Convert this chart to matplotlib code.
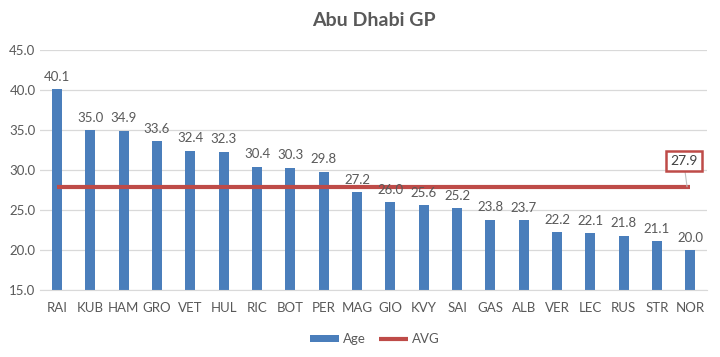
import matplotlib
matplotlib.use("Agg")
import matplotlib.pyplot as plt
import numpy as np

drivers = ["RAI", "KUB", "HAM", "GRO", "VET", "HUL", "RIC", "BOT", "PER", "MAG",
           "GIO", "KVY", "SAI", "GAS", "ALB", "VER", "LEC", "RUS", "STR", "NOR"]
ages = [40.1, 35.0, 34.9, 33.6, 32.4, 32.3, 30.4, 30.3, 29.8, 27.2,
        26.0, 25.6, 25.2, 23.8, 23.7, 22.2, 22.1, 21.8, 21.1, 20.0]
avg_value = 27.9
title = "Abu Dhabi GP"

plt.rcParams['font.family'] = ['Lato', 'DejaVu Sans']
grey = "#595959"

fig = plt.figure(figsize=(7.2, 3.57), dpi=100)
ax = fig.add_axes([0.056, 0.188, 0.926, 0.672])

x = np.arange(len(drivers))
bars = ax.bar(x, ages, width=0.3, color="#4A7EBB", label="Age", zorder=2)
avg = [avg_value] * len(drivers)
line, = ax.plot(x, avg, color="#BE4B48", lw=3, label="AVG", zorder=3, solid_capstyle="butt")

for xi, v in zip(x, ages):
    ax.text(xi, v + 0.8, f"{v:.1f}", ha="center", va="bottom", fontsize=9.5, color=grey)

# AVG label box
ax.annotate(f"{avg_value:.1f}", xy=(x[-1] - 0.1, avg_value), xytext=(x[-1] - 0.2, avg_value + 3.2),
            ha="center", va="center", fontsize=10, color="#404040",
            bbox=dict(boxstyle="square,pad=0.3", fc="white", ec="#BE4B48", lw=1.8),
            arrowprops=dict(arrowstyle="-", color="#BFBFBF", lw=0.8, shrinkA=0, shrinkB=0),
            zorder=5)

ax.set_ylim(15, 45)
ax.set_xlim(-0.5, len(drivers) - 0.5)
ax.set_yticks(np.arange(15, 45.1, 5))
ax.set_yticklabels([f"{t:.1f}" for t in np.arange(15, 45.1, 5)])
ax.set_xticks(x)
ax.set_xticklabels(drivers)
ax.tick_params(axis="both", length=0, labelsize=9.5, colors=grey)
ax.tick_params(axis="x", pad=9)
ax.yaxis.grid(True, color="#D9D9D9", lw=0.9, zorder=0)
for s in ["top", "right", "left"]:
    ax.spines[s].set_visible(False)
ax.spines["bottom"].set_color("#D9D9D9")

fig.suptitle(title, x=0.52, y=0.965, fontsize=14, fontweight="bold", color=grey)

leg = fig.legend([bars, line], ["Age", "AVG"], loc="lower center", bbox_to_anchor=(0.52, 0.0),
                 ncol=2, frameon=False, fontsize=9.5, handlelength=2.2, handleheight=0.5,
                 columnspacing=1.0, handletextpad=0.3)
for t in leg.get_texts():
    t.set_color(grey)

fig.savefig("out.png", dpi=100)
